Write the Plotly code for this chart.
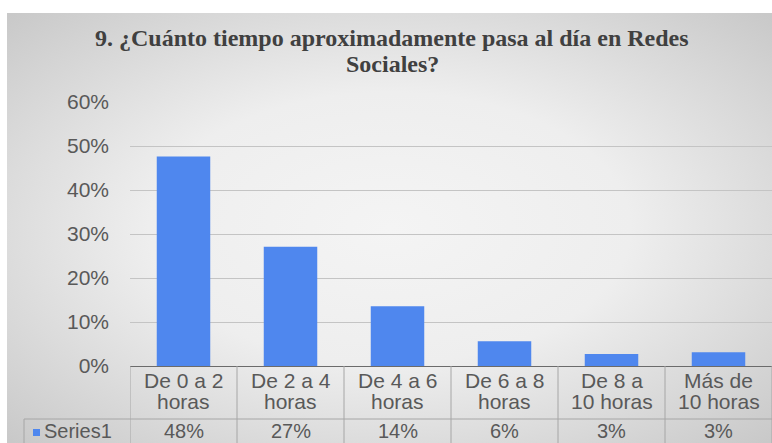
import base64
import plotly.graph_objects as go

# ---- data -----------------------------------------------------------------
categories = [
    "De 0 a 2<br>horas",
    "De 2 a 4<br>horas",
    "De 4 a 6<br>horas",
    "De 6 a 8<br>horas",
    "De 8 a<br>10 horas",
    "Más de<br>10 horas",
]
shares = [0.476, 0.271, 0.136, 0.056, 0.027, 0.031]
series_name = "Series1"
y_ticks = [0, 0.1, 0.2, 0.3, 0.4, 0.5, 0.6]
title_lines = ["9. ¿Cuánto tiempo aproximadamente pasa al día en Redes", "Sociales?"]

# ---- geometry (pixels) ----------------------------------------------------
W, H = 772, 443
ML, MR, MT, MB = 130, 0, 102, 77
PW, PH = W - ML - MR, H - MT - MB

def py(pix):
    """pixel row -> paper y"""
    return (H - MB - pix) / PH

def px(pix):
    """pixel column -> paper x"""
    return (pix - ML) / PW

BAR = "#4F87EE"
TXT = "#595959"
GRID = "#c4c4c4"
LINE = "#a6a6a6"
AXIS = "#6b6b6b"
SANS = "Liberation Sans, Arial, sans-serif"
SERIF = "Times New Roman, Liberation Serif, DejaVu Serif, serif"

# soft radial background of the chart area
svg = f"""<svg xmlns='http://www.w3.org/2000/svg' width='765' height='430' viewBox='0 0 765 430' preserveAspectRatio='none'>
<defs><radialGradient id='g' cx='50%' cy='50%' r='70%'>
<stop offset='0' stop-color='#f4f4f4'/>
<stop offset='0.45' stop-color='#eeeeee'/>
<stop offset='1' stop-color='#c9c9c9'/>
</radialGradient></defs>
<rect width='765' height='430' fill='url(#g)'/></svg>"""
bg_src = "data:image/svg+xml;base64," + base64.b64encode(svg.encode()).decode()

n = len(categories)
xs = list(range(n))

fig = go.Figure()
fig.add_trace(go.Bar(
    x=xs, y=shares, width=0.5, marker=dict(color=BAR, line=dict(width=0)),
    name=series_name, showlegend=False, hoverinfo="skip",
))

shapes = []
annotations = []

def label(x, y, text, xref="x", xanchor="center", size=21):
    annotations.append(dict(x=x, y=y, xref=xref, yref="paper", text=text,
                            xanchor=xanchor, yanchor="middle", showarrow=False,
                            borderpad=0,
                            font=dict(family=SANS, size=size, color=TXT)))

# data table under the plot
row1_top, row1_bot, row2_bot = 366, 419, 443
for i in range(n + 1):
    shapes.append(dict(type="line", xref="x", yref="paper",
                       x0=i - 0.5, x1=i - 0.5, y0=py(row1_top), y1=py(row2_bot),
                       line=dict(color=LINE, width=1)))
shapes.append(dict(type="line", xref="paper", yref="paper",
                   x0=px(24), x1=1, y0=py(row1_bot), y1=py(row1_bot),
                   line=dict(color=LINE, width=1)))
shapes.append(dict(type="line", xref="paper", yref="paper",
                   x0=px(24), x1=px(24), y0=py(row1_bot), y1=py(row2_bot),
                   line=dict(color=LINE, width=1)))
# legend key square
shapes.append(dict(type="rect", xref="paper", yref="paper",
                   x0=px(33), x1=px(40), y0=py(436), y1=py(429),
                   fillcolor=BAR, line=dict(width=0)))

for i, (cat, v) in enumerate(zip(categories, shares)):
    first, second = cat.split("<br>")
    label(i, py(380), first)
    label(i, py(402), second)
    label(i, py(431), f"{v:.0%}", size=20)

label(px(43), py(431), series_name, xref="paper", xanchor="left", size=20)

# title, two centred lines
for text, row in zip(title_lines, (38, 64)):
    annotations.append(dict(x=px(392), y=py(row), xref="paper", yref="paper",
                            text=f"<b>{text}</b>", showarrow=False, borderpad=0,
                            xanchor="center", yanchor="middle",
                            font=dict(family=SERIF, size=24, color="#404040")))

fig.update_layout(
    width=W, height=H,
    margin=dict(l=ML, r=MR, t=MT, b=MB, pad=0),
    paper_bgcolor="white",
    plot_bgcolor="rgba(0,0,0,0)",
    images=[dict(source=bg_src, xref="paper", yref="paper",
                 x=px(7), y=py(13), sizex=px(W) - px(7), sizey=py(13) - py(H),
                 xanchor="left", yanchor="top", sizing="stretch", layer="below")],
    xaxis=dict(range=[-0.5, n - 0.5], showticklabels=False, showgrid=False,
               zeroline=False, showline=False, fixedrange=True),
    yaxis=dict(range=[0, 0.6], tickvals=y_ticks, tickformat=".0%",
               showgrid=True, gridcolor=GRID, gridwidth=1,
               zeroline=True, zerolinecolor=AXIS, zerolinewidth=1,
               showline=False, ticks="", ticklabelstandoff=20,
               tickfont=dict(family=SANS, size=21, color=TXT), fixedrange=True),
    shapes=shapes,
    annotations=annotations,
    bargap=0.5,
)

fig.write_html("out.html")
